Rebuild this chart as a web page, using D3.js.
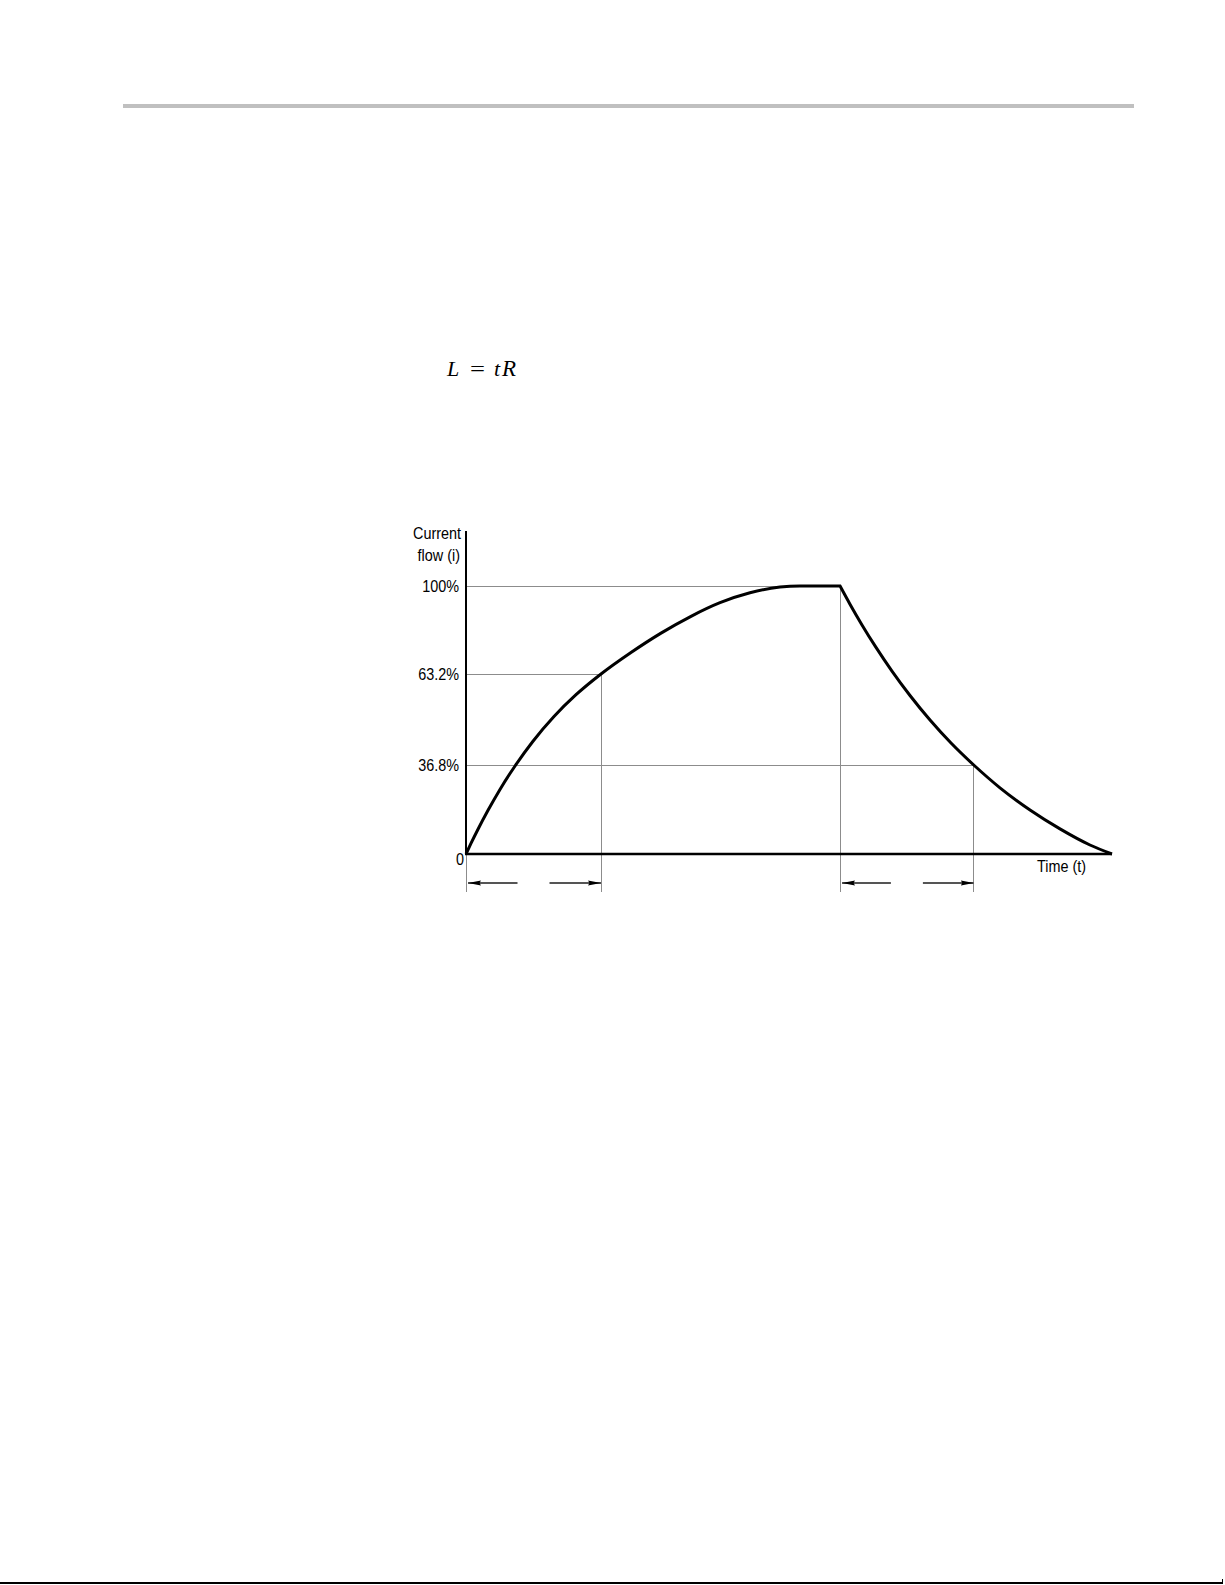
<!DOCTYPE html>
<html>
<head>
<meta charset="utf-8">
<script src="https://cdn.jsdelivr.net/npm/d3@7"></script>
<style>
  html, body { margin: 0; padding: 0; background: #fff; }
  svg { display: block; }
  text { font-family: "Liberation Sans", Arial, Helvetica, sans-serif; fill: #000; }
</style>
</head>
<body>
<svg id="chart" width="1225" height="1585"></svg>
<script>
// ---- data (time in arbitrary units 0..100, current in %) ----
const riseTime    = [0, 0.77, 1.86, 3.41, 5.26, 7.59, 10.37, 13.62, 17.03, 20.9, 25.54, 30.19, 34.83, 39.32, 43.96, 48.61, 51.7, 57.9];
const riseCurrent = [0, 4.38, 10.25, 18.07, 26.71, 36.39, 43.70, 50.87, 57.19, 63.2, 72.19, 80.30, 87.33, 93.02, 97.16, 99.54, 100, 100];
const fallTime    = [57.9, 59.44, 61.30, 63.47, 65.94, 68.73, 71.83, 75.08, 78.6, 82.66, 87.31, 91.95, 96.59, 100];
const fallCurrent = [100, 92.39, 83.73, 74.32, 64.41, 56.96, 49.85, 43.18, 36.8, 27.37, 18.19, 10.38, 3.72, 0];

const yTickValues = [36.8, 63.2, 100];
const yTickLabels = ["36.8%", "63.2%", "100%"];
const originLabel = "0";
const xAxisLabel  = "Time (t)";
const yAxisLabel  = ["Current", "flow (i)"];

// guide lines: level (%) reached at time t
const guides = [
  { level: 100,  time: 57.9 },
  { level: 63.2, time: 20.9 },
  { level: 36.8, time: 78.6 }
];
// time-constant intervals marked with arrows
const intervals = [[0, 20.9], [57.9, 78.6]];

// ---- layout ----
const svg = d3.select("#chart");
const x = d3.scaleLinear().domain([0, 100]).range([466, 1112]);
const y = d3.scaleLinear().domain([0, 36.8, 63.2, 100]).range([854, 765, 674, 586]);
const axisTop = 531;
const guideBottom = 892;
const arrowY = 883;
const gridColor = "#8c8c8c";
const labelSize = 16;
const condense = 0.9;

function squeeze(sel) {
  sel.each(function () {
    const t = d3.select(this);
    const ax = +t.attr("x") || 0, ay = +t.attr("y") || 0;
    t.attr("transform", `translate(${ax},${ay}) scale(${condense},1) translate(${-ax},${-ay})`);
  });
}

// header rule
svg.append("rect").attr("x", 123).attr("y", 104).attr("width", 1011).attr("height", 4).attr("fill", "#c0c0c0");
// footer rule
svg.append("line").attr("x1", 0).attr("x2", 1223).attr("y1", 1583).attr("y2", 1583)
  .attr("stroke", "#000").attr("stroke-width", 2);
svg.append("line").attr("x1", 1222.5).attr("x2", 1222.5).attr("y1", 1579).attr("y2", 1584)
  .attr("stroke", "#000").attr("stroke-width", 1);

// formula  L = tR
const serif = "'Liberation Serif', 'DejaVu Serif', serif";
const f = svg.append("g").style("font-family", serif).attr("font-size", 22);
f.append("text").attr("x", 447).attr("y", 376).attr("font-style", "italic").style("font-family", serif).text("L");
f.append("text").attr("x", 470).attr("y", 376).style("font-family", serif)
  .attr("textLength", 15).attr("lengthAdjust", "spacingAndGlyphs").text("=");
f.append("text").attr("x", 494).attr("y", 376).attr("font-style", "italic").style("font-family", serif).text("t");
f.append("text").attr("x", 502).attr("y", 376).attr("font-style", "italic").style("font-family", serif)
  .attr("font-size", 23).text("R");

// guide lines (horizontal)
svg.append("g").selectAll("line").data(guides).join("line")
  .attr("x1", x(0)).attr("x2", d => x(d.time))
  .attr("y1", d => y(d.level)).attr("y2", d => y(d.level))
  .attr("stroke", gridColor).attr("stroke-width", 1).attr("shape-rendering", "crispEdges");
// guide lines (vertical)
svg.append("g").selectAll("line").data(guides).join("line")
  .attr("x1", d => x(d.time)).attr("x2", d => x(d.time))
  .attr("y1", d => y(d.level)).attr("y2", guideBottom)
  .attr("stroke", gridColor).attr("stroke-width", 1).attr("shape-rendering", "crispEdges");
// axis extension below origin
svg.append("line").attr("x1", x(0)).attr("x2", x(0)).attr("y1", y(0)).attr("y2", guideBottom)
  .attr("stroke", gridColor).attr("stroke-width", 1).attr("shape-rendering", "crispEdges");

// arrows
const defs = svg.append("defs");
defs.append("marker").attr("id", "ah").attr("viewBox", "0 0 13 6")
  .attr("refX", 13).attr("refY", 3).attr("markerWidth", 13).attr("markerHeight", 6)
  .attr("markerUnits", "userSpaceOnUse").attr("orient", "auto")
  .append("path").attr("d", "M0,0.4 L13,3 L0,5.6 L1.5,3 Z").attr("fill", "#000");
const arrows = [];
intervals.forEach(([a, b]) => {
  const xa = x(a), xb = x(b), mid = (xa + xb) / 2;
  arrows.push({ from: mid - 16, to: xa + 2 });
  arrows.push({ from: mid + 16, to: xb });
});
svg.append("g").selectAll("line").data(arrows).join("line")
  .attr("x1", d => d.from).attr("x2", d => d.to).attr("y1", arrowY).attr("y2", arrowY)
  .attr("stroke", "#555").attr("stroke-width", 1.8).attr("marker-end", "url(#ah)");

// axes
svg.append("line").attr("x1", x(0)).attr("x2", x(0)).attr("y1", axisTop).attr("y2", y(0) + 1)
  .attr("stroke", "#000").attr("stroke-width", 2);
svg.append("line").attr("x1", x(0) - 1).attr("x2", x(100)).attr("y1", y(0)).attr("y2", y(0))
  .attr("stroke", "#000").attr("stroke-width", 2.5);

// y tick labels via axis
const yAxis = d3.axisLeft(y).tickValues(yTickValues).tickSize(0).tickPadding(7)
  .tickFormat((d, i) => yTickLabels[i]);
const ya = svg.append("g").attr("transform", `translate(${x(0)},0)`).call(yAxis);
ya.select(".domain").remove();
ya.selectAll("text").attr("font-size", labelSize).attr("font-family", "'Liberation Sans', Arial, sans-serif")
  .attr("fill", "#000").attr("dy", "0.36em").call(squeeze);

// origin label
svg.append("text").attr("x", x(0) - 2).attr("y", 865).attr("text-anchor", "end")
  .attr("font-size", labelSize).text(originLabel).call(squeeze);
// x axis label
svg.append("text").attr("x", 1037).attr("y", 872).attr("font-size", labelSize).text(xAxisLabel).call(squeeze);
// y axis label
svg.append("g").selectAll("text").data(yAxisLabel).join("text")
  .attr("x", (d, i) => i === 0 ? 461 : 460).attr("y", (d, i) => 539 + i * 22)
  .attr("text-anchor", "end").attr("font-size", labelSize).text(d => d).call(squeeze);

// current curve
const riseData = riseTime.map((t, i) => [t, riseCurrent[i]]);
const fallData = fallTime.map((t, i) => [t, fallCurrent[i]]);
const line = d3.line().x(d => x(d[0])).y(d => y(d[1])).curve(d3.curveMonotoneX);
const pathD = line(riseData) + line(fallData).replace(/^M/, "L");
svg.append("path").attr("d", pathD).attr("fill", "none").attr("stroke", "#000")
  .attr("stroke-width", 3).attr("stroke-linejoin", "miter");
</script>
</body>
</html>
